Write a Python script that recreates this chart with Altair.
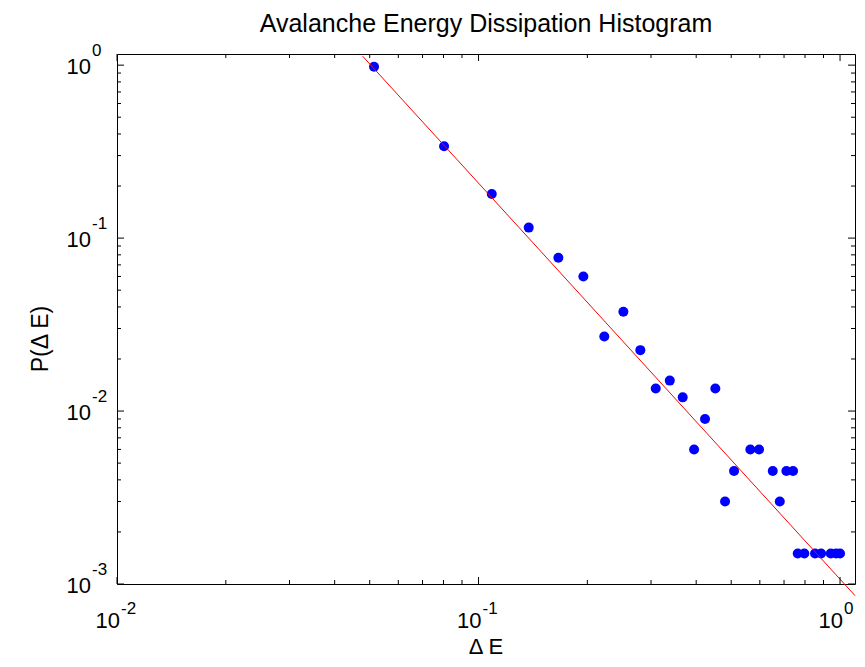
import altair as alt
import pandas as pd

# Histogram points
energy = [0.0514, 0.0803, 0.1088, 0.1377, 0.1663, 0.1950, 0.2228, 0.2516, 0.2803, 0.3092,
          0.3381, 0.3671, 0.3947, 0.4232, 0.4519, 0.4808, 0.5091, 0.5649, 0.5970, 0.6515,
          0.6813, 0.7106, 0.7413, 0.7638, 0.7965, 0.8527, 0.8862, 0.9425, 0.9749, 1.0]
prob = [0.98, 0.34, 0.18, 0.115, 0.077, 0.06, 0.027, 0.0375, 0.0225, 0.0135,
        0.015, 0.012, 0.006, 0.009, 0.0135, 0.003, 0.0045, 0.006, 0.006, 0.0045,
        0.003, 0.0045, 0.0045, 0.0015, 0.0015, 0.0015, 0.0015, 0.0015, 0.0015, 0.0015]

# Power-law fit line (end points)
fit_energy = [0.0478, 1.1]
fit_prob = [1.127, 0.000857]

# Ticks
x_major = [0.01, 0.1, 1.0]
x_exp = ["-2", "-1", "0"]
x_minor = [0.02, 0.03, 0.04, 0.05, 0.06, 0.07, 0.08, 0.09,
           0.2, 0.3, 0.4, 0.5, 0.6, 0.7, 0.8, 0.9]
y_major = [0.001, 0.01, 0.1, 1.0]
y_exp = ["-3", "-2", "-1", "0"]
y_minor = [0.002, 0.003, 0.004, 0.005, 0.006, 0.007, 0.008, 0.009,
           0.02, 0.03, 0.04, 0.05, 0.06, 0.07, 0.08, 0.09,
           0.2, 0.3, 0.4, 0.5, 0.6, 0.7, 0.8, 0.9]

title_text = "Avalanche Energy Dissipation Histogram"
x_title = "Δ E"
y_title = "P(Δ E)"

W, H = 738, 530
FONT = "Liberation Sans"
MAJ, MIN = 7, 4
LAB, SUP = 22, 17

xscale = alt.Scale(type="log", domain=[0.01, 1.1])
yscale = alt.Scale(type="log", domain=[0.001, 1.16])

points = alt.Chart(pd.DataFrame({"E": energy, "P": prob})).mark_circle(
    size=100, color="#0000ff", opacity=1
).encode(
    x=alt.X("E:Q", scale=xscale, axis=None),
    y=alt.Y("P:Q", scale=yscale, axis=None),
)

fit = alt.Chart(pd.DataFrame({"E": fit_energy, "P": fit_prob})).mark_line(
    color="#ff0000", strokeWidth=1, clip=False
).encode(
    x=alt.X("E:Q", scale=xscale, axis=None),
    y=alt.Y("P:Q", scale=yscale, axis=None),
)


def xticks(values, length):
    d = alt.Chart(pd.DataFrame({"v": values})).mark_rule(color="black", strokeWidth=1)
    xe = alt.X("v:Q", scale=xscale, axis=None)
    bottom = d.encode(x=xe, y=alt.value(H), y2=alt.value(H - length))
    top = d.encode(x=xe, y=alt.value(0), y2=alt.value(length))
    return [bottom, top]


def yticks(values, length):
    d = alt.Chart(pd.DataFrame({"v": values})).mark_rule(color="black", strokeWidth=1)
    ye = alt.Y("v:Q", scale=yscale, axis=None)
    left = d.encode(y=ye, x=alt.value(0), x2=alt.value(length))
    right = d.encode(y=ye, x=alt.value(W), x2=alt.value(W - length))
    return [left, right]


xl = pd.DataFrame({"v": x_major, "e": x_exp})
x_base = alt.Chart(xl).mark_text(
    text="10", align="right", baseline="alphabetic", fontSize=LAB, font=FONT, color="black", dx=3
).encode(x=alt.X("v:Q", scale=xscale, axis=None), y=alt.value(H + 44))
x_sup = alt.Chart(xl).mark_text(
    align="left", baseline="alphabetic", fontSize=SUP, font=FONT, color="black", dx=4
).encode(x=alt.X("v:Q", scale=xscale, axis=None), y=alt.value(H + 30), text="e:N")

yl = pd.DataFrame({"v": y_major, "e": y_exp})
y_base = alt.Chart(yl).mark_text(
    text="10", align="right", baseline="alphabetic", fontSize=LAB, font=FONT, color="black", dy=9
).encode(y=alt.Y("v:Q", scale=yscale, axis=None), x=alt.value(-26))
y_sup = alt.Chart(yl).mark_text(
    align="left", baseline="alphabetic", fontSize=SUP, font=FONT, color="black", dy=-9
).encode(y=alt.Y("v:Q", scale=yscale, axis=None), x=alt.value(-25), text="e:N")

title_mark = alt.Chart(pd.DataFrame({"t": [title_text]})).mark_text(
    align="center", baseline="alphabetic", fontSize=25, font=FONT, color="black"
).encode(x=alt.value(W / 2), y=alt.value(-22), text="t:N")

xt = alt.Chart(pd.DataFrame({"t": [x_title]})).mark_text(
    align="center", baseline="alphabetic", fontSize=22, font=FONT, color="black"
).encode(x=alt.value(W / 2), y=alt.value(H + 70), text="t:N")

yt = alt.Chart(pd.DataFrame({"t": [y_title]})).mark_text(
    align="center", baseline="alphabetic", fontSize=23, font=FONT, color="black", angle=270
).encode(x=alt.value(-69), y=alt.value(H / 2 + 20), text="t:N")

layers = [points, fit] + xticks(x_major, MAJ) + xticks(x_minor, MIN) \
    + yticks(y_major, MAJ) + yticks(y_minor, MIN) \
    + [x_base, x_sup, y_base, y_sup, title_mark, xt, yt]

chart = alt.layer(*layers).properties(
    width=W, height=H,
    autosize=alt.AutoSizeParams(type="none"),
    padding={"left": 109, "top": 46, "right": 2, "bottom": 75},
).configure(
    background="white",
    view=alt.ViewConfig(stroke="black", strokeWidth=1),
)

chart.save("out.html", embed_options={"renderer": "svg", "actions": False})
